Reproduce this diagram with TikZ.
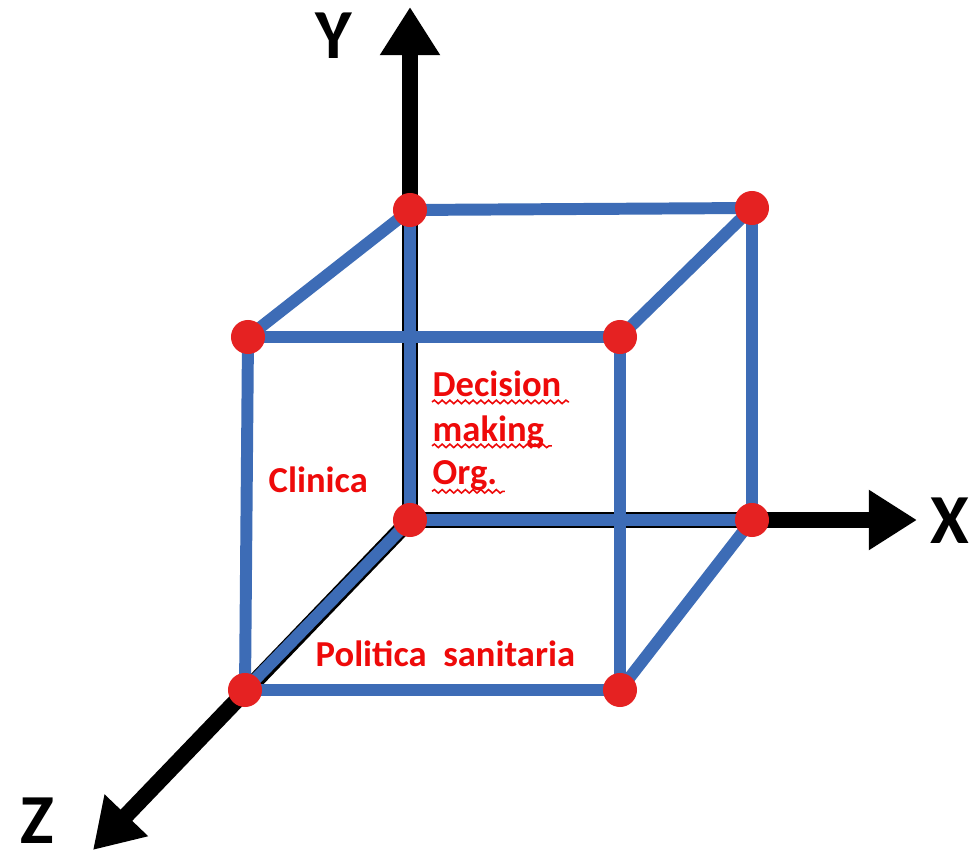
\documentclass[tikz,border=0pt]{standalone}
\usepackage{fontspec}
\setmainfont{Carlito}
\usetikzlibrary{arrows.meta,decorations.pathmorphing}
\definecolor{edgeblue}{HTML}{3D6CB6}
\definecolor{dotred}{HTML}{E52222}
\definecolor{txtred}{HTML}{EE0A0A}
\begin{document}
\begin{tikzpicture}[x=0.01cm,y=-0.01cm,
  axis/.style={line width=4.6pt,black,-{Triangle[width=16.2pt,length=13.7pt]}},
  edge/.style={line width=3.4pt,edgeblue,line cap=round},
  vdot/.style={circle,fill=dotred,minimum size=0.34cm,inner sep=0pt},
  axlabel/.style={font=\bfseries\fontsize{20}{20}\selectfont,inner sep=0pt},
  facelabel/.style={font=\bfseries\fontsize{10.4}{12}\selectfont,text=txtred,inner sep=0pt,anchor=base west},
  wavy/.style={txtred,line width=0.45pt,decorate,decoration={snake,amplitude=0.5pt,segment length=2.2pt}}]
\useasboundingbox (0,0) rectangle (969,852);
\fill[white] (0,0) rectangle (969,852);
% vertices
\coordinate (O) at (410,520);
\coordinate (BTL) at (410,210);
\coordinate (BTR) at (752,208);
\coordinate (BBR) at (752,520);
\coordinate (FTL) at (248,337);
\coordinate (FTR) at (620,337);
\coordinate (FBL) at (245,690);
\coordinate (FBR) at (620,690);
\coordinate (Yend) at (410,7);
\coordinate (Xend) at (917,520);
\coordinate (Zend) at (93,850);
% axes
\draw[axis] (O) -- (Yend);
\draw[axis] (O) -- (Xend);
\draw[axis] (O) -- (Zend);
% cube edges
\draw[edge] (O) -- (BTL);
\draw[edge] (O) -- (BBR);
\draw[edge] (O) -- (FBL);
\draw[edge] (BTL) -- (BTR);
\draw[edge] (BTR) -- (BBR);
\draw[edge] (FTL) -- (FTR);
\draw[edge] (FBL) -- (FBR);
\draw[edge] (FTL) -- (FBL);
\draw[edge] (FTR) -- (FBR);
\draw[edge] (BTL) -- (FTL);
\draw[edge] (BTR) -- (FTR);
\draw[edge] (BBR) -- (FBR);
% dots
\foreach \v in {O,BTL,BTR,BBR,FTL,FTR,FBL,FBR}
  \node[vdot] (d\v) at (\v) {};
% axis labels
\node[axlabel] (ly) at (334,36) {Y};
\node[axlabel] (lx) at (950,521) {X};
\node[axlabel] (lz) at (37,821) {Z};
% face labels
\node[facelabel] (tcl) at (268,493) {Clinica};
\node[facelabel] (tdec) at (432,397) {Decision};
\node[facelabel] (tmak) at (432,442) {making};
\node[facelabel] (torg) at (432,485) {Org.};
\node[facelabel] (tpol) at (315,667) {Politica\ \ sanitaria};
% spelling underlines
\draw[wavy] ([yshift=-1.4pt]tdec.base west) -- ([yshift=-1.4pt,xshift=2pt]tdec.base east);
\draw[wavy] ([yshift=-1.1pt]tmak.base west) -- ([yshift=-1.1pt,xshift=2pt]tmak.base east);
\draw[wavy] ([yshift=-1.8pt]torg.base west) -- ([yshift=-1.8pt,xshift=2pt]torg.base east);
\end{tikzpicture}
\end{document}
